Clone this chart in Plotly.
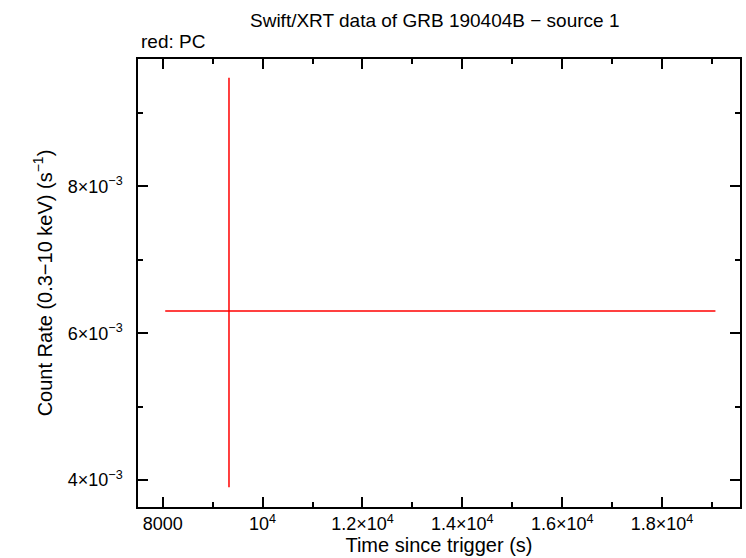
import plotly.graph_objects as go

# Data
t = [9327.0]
t_err_minus = [1277.0]
t_err_plus = [9741.0]
rate = [6.303e-3]
rate_err_minus = [2.40e-3]
rate_err_plus = [3.176e-3]

x_tickvals = [8000, 10000, 12000, 14000, 16000, 18000]
x_ticktext = ["8000", "10<sup>4</sup>", "1.2×10<sup>4</sup>", "1.4×10<sup>4</sup>",
              "1.6×10<sup>4</sup>", "1.8×10<sup>4</sup>"]
y_tickvals = [4e-3, 6e-3, 8e-3]
y_ticktext = ["4×10<sup>−3</sup>", "6×10<sup>−3</sup>", "8×10<sup>−3</sup>"]

FONT = "Liberation Sans, Arial, Helvetica, sans-serif"

W, H = 746, 558
L, R, T, B = 138, 4, 59, 51

fig = go.Figure()
fig.add_trace(go.Scatter(
    x=t, y=rate, mode="markers",
    marker=dict(size=1, color="red"),
    error_x=dict(type="data", symmetric=False, array=t_err_plus, arrayminus=t_err_minus,
                 color="red", thickness=1.5, width=0),
    error_y=dict(type="data", symmetric=False, array=rate_err_plus, arrayminus=rate_err_minus,
                 color="red", thickness=1.5, width=0),
    showlegend=False,
))

axis_common = dict(
    showline=True, linecolor="black", linewidth=1.5, mirror="ticks",
    ticks="inside", ticklen=10, tickwidth=1.5, tickcolor="black",
    showgrid=False, zeroline=False,
    tickfont=dict(family=FONT, size=18, color="black"),
)

fig.update_xaxes(
    range=[7505, 19560], tickmode="array", tickvals=x_tickvals, ticktext=x_ticktext,
    title=dict(text="Time since trigger (s)", font=dict(family=FONT, size=20, color="black"), standoff=2),
    minor=dict(dtick=1000, tick0=0, ticks="inside", ticklen=5, tickwidth=1.5, tickcolor="black"),
    **axis_common,
)
fig.update_yaxes(
    range=[3.635e-3, 9.733e-3], tickmode="array", tickvals=y_tickvals, ticktext=y_ticktext,
    ticklabelstandoff=10,
    title=dict(text="Count Rate (0.3−10 keV) (s<sup>−1</sup>)", font=dict(family=FONT, size=20, color="black"), standoff=10),
    minor=dict(dtick=1e-3, tick0=0, ticks="inside", ticklen=5, tickwidth=1.5, tickcolor="black"),
    **axis_common,
)

pw, ph = W - L - R, H - T - B
fig.update_layout(
    width=W, height=H,
    margin=dict(l=L, r=R, t=T, b=B),
    plot_bgcolor="white", paper_bgcolor="white",
    font=dict(family=FONT, color="black"),
    annotations=[
        dict(text="Swift/XRT data of GRB 190404B − source 1",
             x=(435 - L) / pw, y=1 + (T - 20) / ph,
             xref="paper", yref="paper", xanchor="center", yanchor="middle",
             showarrow=False, font=dict(size=19)),
        dict(text="red: PC", x=(139 - L) / pw, y=1 + (T - 42) / ph,
             xref="paper", yref="paper", xanchor="left", yanchor="middle",
             showarrow=False, font=dict(size=19)),
    ],
)

fig.write_html("out.html", config={"displayModeBar": False},
               post_script="document.body.style.margin='0';document.body.style.overflow='hidden';")
